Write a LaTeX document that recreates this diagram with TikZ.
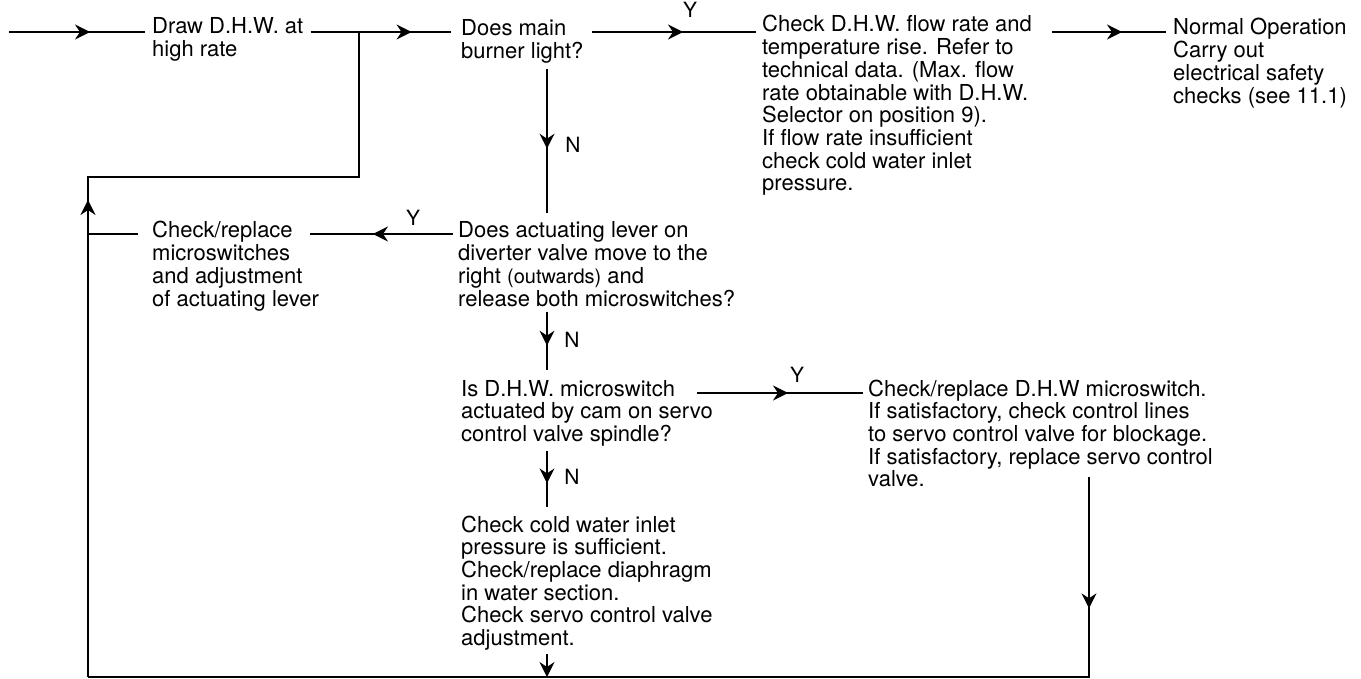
\documentclass[tikz,border=0pt]{standalone}
\usepackage{fontspec}
\setmainfont{TeX Gyre Heros}
\usetikzlibrary{arrows.meta,decorations.markings}
\tikzset{
  txt/.style={anchor=base west, inner sep=0pt, align=left, font=\fontsize{22}{22.7}\selectfont},
  lab/.style={inner sep=0pt, font=\fontsize{21}{22.7}\selectfont},
  conn/.style={line width=1.3pt},
  tip/.style={-{Stealth[length=15pt,width=15pt,inset=5pt]}},
  arr/.style={postaction={decorate, decoration={markings,
     mark=at position #1pt with {\arrow{Stealth[length=15pt,width=15pt,inset=5pt]}}}}}
}
\begin{document}
\begin{tikzpicture}[x=1pt,y=-1pt]
\useasboundingbox (0,0) rectangle (1361,679);
% helper coordinates
\coordinate (in) at (9,32);
\coordinate (vx) at (547,0);
\coordinate (loopx) at (88,0);
\coordinate (jx) at (359,0);
\coordinate (rx) at (1089,0);
\coordinate (topy) at (0,177);
\coordinate (boty) at (0,677);
\coordinate (ly) at (0,234);
\coordinate (cy) at (0,393);
% nodes (positioned at the baseline of their last line)
\node[txt] (draw) at (152,56.7) {Draw D.H.W. at\\high rate};
\node[txt] (burner) at (461,58.7) {Does main\\burner light?};
\node[txt] (flow) at (762,190.9) {Check D.H.W. flow rate and\\temperature rise. Refer to\\technical data. (Max. flow\\rate obtainable with D.H.W.\\Selector on position 9).\\If flow rate insufficient\\check cold water inlet\\pressure.};
\node[txt] (normal) at (1173,103.1) {Normal Operation\\Carry out\\electrical safety\\checks (see 11.1)};
\node[txt] (micro) at (152,306.1) {Check/replace\\microswitches\\and adjustment\\of actuating lever};
\node[txt] (lever) at (458,306.1) {Does actuating lever on\\diverter valve move to the\\right {\fontsize{20}{22.7}\selectfont(outwards)} and\\release both microswitches?};
\node[txt] (cam) at (461,441.4) {Is D.H.W. microswitch\\actuated by cam on servo\\control valve spindle?};
\node[txt] (repl) at (868,486.8) {Check/replace D.H.W microswitch.\\If satisfactory, check control lines\\to servo control valve for blockage.\\If satisfactory, replace servo control\\valve.};
\node[txt] (cold) at (461,645.5) {Check cold water inlet\\pressure is sufficient.\\Check/replace diaphragm\\in water section.\\Check servo control valve\\adjustment.};
% labels
\node[lab] (y1) at (690,10) {Y};
\node[lab] (n1) at (573,145) {N};
\node[lab] (y2) at (413,218) {Y};
\node[lab] (n2) at (572,340) {N};
\node[lab] (y3) at (797,375) {Y};
\node[lab] (n3) at (572,477) {N};
% connectors
\draw[conn, arr=81] (in) -- ([xshift=-7pt]in -| draw.west);
\draw[conn, arr=101] ([xshift=7pt]in -| draw.east) -- ([xshift=-10pt]in -| burner.west);
\draw[conn, arr=91] ([xshift=131pt]in -| burner.west) -- ([xshift=-6pt]in -| flow.west);
\draw[conn, arr=70] ([xshift=290pt]in -| flow.west) -- ([xshift=-7pt]in -| normal.west);
\draw[conn, arr=80] ([yshift=-5pt]burner.south -| vx) -- ([yshift=9pt]lever.north -| vx);
\draw[conn, arr=80] ([xshift=-5pt]ly -| lever.west) -- ([xshift=158pt]ly -| micro.west);
\draw[conn] ([xshift=-14pt]ly -| micro.west) -- (ly -| loopx);
\draw[conn, arr=34] ([yshift=-5pt]lever.south -| vx) -- ([yshift=10pt]cam.north -| vx);
\draw[conn, arr=91] ([xshift=236pt]cy -| cam.west) -- ([xshift=-5pt]cy -| repl.west);
\draw[conn, arr=32] ([yshift=-5pt]cam.south -| vx) -- ([yshift=8pt]cold.north -| vx);
\draw[conn, tip] ([yshift=-4pt]cold.south -| vx) -- (boty -| vx);
\draw[conn, arr=131] ([yshift=10pt]repl.south -| rx) -- (boty -| rx) -- (boty -| loopx);
\draw[conn, arr=477] (boty -| loopx) -- (topy -| loopx) -- (topy -| jx) -- (in -| jx);
\end{tikzpicture}
\end{document}
